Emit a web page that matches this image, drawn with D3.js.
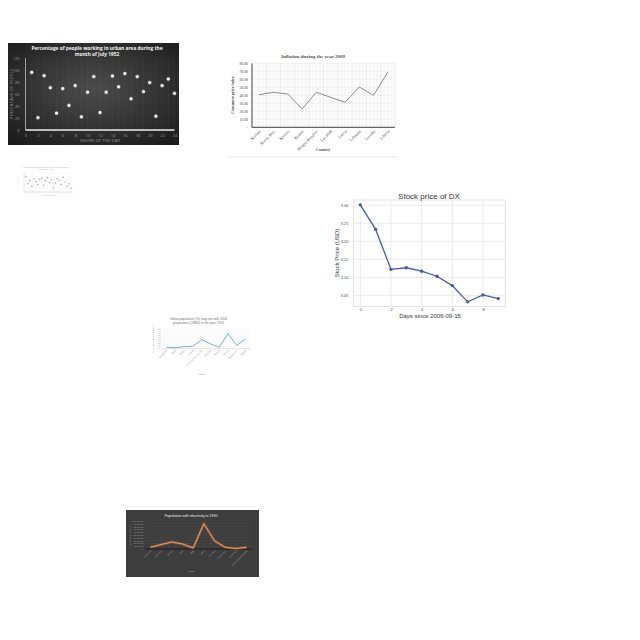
<!DOCTYPE html>
<html>
<head>
<meta charset="utf-8">
<script src="https://cdn.jsdelivr.net/npm/d3@7"></script>
<style>
  body { margin: 0; background: #fff; }
  svg { display: block; }
</style>
</head>
<body>
<script>
// chart 1 - urban workers scatter
var workHours = [1, 2, 3, 4, 5, 6, 7, 8, 9, 10, 11, 12, 13, 14, 15, 16, 17, 18, 19, 20, 21, 22, 23, 24];
var workPct = [96, 20.5, 90.5, 70.5, 28, 69, 41, 74, 22, 63, 89, 29, 63, 90, 72, 94, 52, 89, 64, 79, 23, 74, 85, 61];

// chart 2 - inflation
var inflCountries = ["Kiribati", "Korea, Rep.", "Kosovo", "Kuwait", "Kyrgyz Republic", "Lao PDR", "Latvia", "Lebanon", "Lesotho", "Liberia"];
var inflValues = [40.7, 43.7, 41.6, 23, 43.7, 37.5, 31, 50.4, 40, 69];

// chart 3 - tiny scatter
var tinyX = [1, 2, 3, 4, 5, 6, 7, 8, 9, 10, 11, 12, 13, 14, 15, 16, 17, 18, 19, 20, 21, 22, 23, 24];
var tinyY = [80, 45, 62, 30, 70, 55, 40, 66, 72, 35, 58, 75, 50, 64, 22, 48, 70, 60, 38, 78, 52, 30, 44, 20];

// chart 4 - stock price
var stockDays = [0, 1, 2, 3, 4, 5, 6, 7, 8, 9];
var stockPrice = [3.301, 3.233, 3.122, 3.1265, 3.117, 3.103, 3.077, 3.032, 3.051, 3.041];

// chart 5 - urban population
var urbCountries = ["Bangladesh", "Benin", "Bhutan", "Bolivia", "Bosnia and Herzegovina", "Botswana", "Burundi", "Bahrain", "Burkina Faso", "Bulgaria"];
var urbValues = [7, 5, 10, 12, 46, 25, 7, 76, 17, 49];

// chart 6 - electricity
var elecCountries = ["Cambodia", "Cameroon", "Canada", "Chad", "Chile", "China", "Colombia", "Congo, Rep.", "Costa Rica", "Central African Republic"];
var elecValues = [60, 157, 253, 180, 36, 904, 290, 60, 20, 60]; // millions

var svg = d3.select("body").append("svg")
  .attr("width", 640).attr("height", 640);
var defs = svg.append("defs");

/* ---------- chart 1 ---------- */
(function() {
  var g = svg.append("g");
  var grad = defs.append("radialGradient").attr("id", "darkbg")
    .attr("cx", "50%").attr("cy", "45%").attr("r", "70%");
  grad.append("stop").attr("offset", "0%").attr("stop-color", "#4a4a4a");
  grad.append("stop").attr("offset", "100%").attr("stop-color", "#1c1c1c");
  g.append("rect").attr("x", 8).attr("y", 43).attr("width", 171).attr("height", 102)
    .attr("fill", "url(#darkbg)");

  var x = d3.scaleLinear().domain([0, 24]).range([25.5, 174.5]);
  var y = d3.scaleLinear().domain([0, 120]).range([130, 58]);

  // faint grid
  for (var i = 0; i <= 24; i++) {
    g.append("line").attr("x1", x(i)).attr("x2", x(i)).attr("y1", y(120)).attr("y2", y(0))
      .attr("stroke", "#ffffff").attr("stroke-opacity", 0.06).attr("stroke-width", 0.6);
  }
  for (var j = 0; j <= 120; j += 5) {
    g.append("line").attr("x1", x(0)).attr("x2", x(24)).attr("y1", y(j)).attr("y2", y(j))
      .attr("stroke", "#ffffff").attr("stroke-opacity", 0.06).attr("stroke-width", 0.6);
  }

  g.append("text").attr("x", 97).attr("y", 49.6).attr("text-anchor", "middle")
    .attr("font-family", "Open Sans").attr("font-weight", "bold").attr("font-size", 4.8)
    .attr("fill", "#f2f2f2")
    .text("Percentage of people working in urban area during the");
  g.append("text").attr("x", 97).attr("y", 56).attr("text-anchor", "middle")
    .attr("font-family", "Open Sans").attr("font-weight", "bold").attr("font-size", 4.8)
    .attr("fill", "#f2f2f2")
    .text("month of July 1952");

  var xa = g.append("g").attr("transform", "translate(0,130)")
    .call(d3.axisBottom(x).tickValues([0, 2, 4, 6, 8, 10, 12, 14, 16, 18, 20, 22, 24]).tickSize(0).tickPadding(4));
  var ya = g.append("g").attr("transform", "translate(25.5,0)")
    .call(d3.axisLeft(y).tickValues([0, 20, 40, 60, 80, 100, 120]).tickSize(0).tickPadding(6));
  [xa, ya].forEach(function(a) {
    a.select(".domain").remove();
    a.selectAll("text").attr("font-family", "Open Sans").attr("font-size", 4).attr("fill", "#9a9a9a");
  });
  g.append("line").attr("x1", x(0)).attr("x2", x(24)).attr("y1", 130).attr("y2", 130)
    .attr("stroke", "#ececec").attr("stroke-width", 1.4);
  g.append("line").attr("x1", x(0)).attr("x2", x(0)).attr("y1", y(120)).attr("y2", 130)
    .attr("stroke", "#bdbdbd").attr("stroke-width", 0.8);

  g.append("text").attr("x", 100).attr("y", 141.5).attr("text-anchor", "middle")
    .attr("font-family", "Open Sans").attr("font-size", 4).attr("fill", "#a0a0a0")
    .attr("letter-spacing", 0.2).text("HOURS OF THE DAY");
  g.append("text").attr("transform", "translate(13,94) rotate(-90)").attr("text-anchor", "middle")
    .attr("font-family", "Open Sans").attr("font-size", 4).attr("fill", "#a0a0a0")
    .attr("letter-spacing", 0.2).text("PERCENTAGE OF PEOPLE");

  var glow = defs.append("radialGradient").attr("id", "dotglow");
  glow.append("stop").attr("offset", "0%").attr("stop-color", "#ffffff");
  glow.append("stop").attr("offset", "50%").attr("stop-color", "#e4e4e4");
  glow.append("stop").attr("offset", "100%").attr("stop-color", "#888888").attr("stop-opacity", 0.15);
  g.selectAll("circle.pt").data(workHours).enter().append("circle")
    .attr("cx", function(d) { return x(d); })
    .attr("cy", function(d, i) { return y(workPct[i]); })
    .attr("r", 2.4).attr("fill", "url(#dotglow)");
})();

/* ---------- chart 2 ---------- */
(function() {
  var g = svg.append("g");
  var serif = "Liberation Serif";
  var x = d3.scalePoint().domain(inflCountries).range([252, 395]).padding(0.5);
  var y = d3.scaleLinear().domain([0, 80]).range([127.3, 63.3]);

  // minor grid
  for (var v = 0; v <= 80; v += 2.5) {
    g.append("line").attr("x1", 252).attr("x2", 395).attr("y1", y(v)).attr("y2", y(v))
      .attr("stroke", v % 10 === 0 ? "#d4d4d4" : "#ececec").attr("stroke-width", 0.4);
  }
  for (var k = 0; k <= 40; k++) {
    var xx = 252 + k * 143 / 40;
    g.append("line").attr("x1", xx).attr("x2", xx).attr("y1", y(80)).attr("y2", y(0))
      .attr("stroke", k % 4 === 0 ? "#d4d4d4" : "#ececec").attr("stroke-width", 0.4);
  }

  g.append("text").attr("x", 313).attr("y", 58).attr("text-anchor", "middle")
    .attr("font-family", serif).attr("font-weight", "bold").attr("font-size", 5)
    .attr("fill", "#555").text("Inflation during the year 2009");

  var ya = g.append("g").attr("transform", "translate(252,0)")
    .call(d3.axisLeft(y).tickValues([0, 10, 20, 30, 40, 50, 60, 70, 80]).tickSize(0).tickPadding(4)
      .tickFormat(function(d) { return d === 0 ? "-" : d3.format(".2f")(d); }));
  ya.select(".domain").remove();
  ya.selectAll("text").attr("font-family", serif).attr("font-size", 3.8).attr("fill", "#444");

  g.append("path").attr("d", "M252,63.3V127.3H395").attr("fill", "none")
    .attr("stroke", "#444").attr("stroke-width", 1);

  var line = d3.line().x(function(d, i) { return x(inflCountries[i]); }).y(function(d) { return y(d); });
  g.append("path").datum(inflValues).attr("d", line).attr("fill", "none")
    .attr("stroke", "#8c8c8c").attr("stroke-width", 1);

  g.selectAll("text.cl").data(inflCountries).enter().append("text")
    .attr("transform", function(d) { return "translate(" + (x(d) + 2) + ",131.5) rotate(-45)"; })
    .attr("text-anchor", "end").attr("font-family", serif).attr("font-size", 4)
    .attr("fill", "#444").text(function(d) { return d; });

  g.append("text").attr("x", 323).attr("y", 150.5).attr("text-anchor", "middle")
    .attr("font-family", serif).attr("font-weight", "bold").attr("font-size", 4)
    .attr("fill", "#555").text("Country");
  g.append("text").attr("transform", "translate(234,95) rotate(-90)").attr("text-anchor", "middle")
    .attr("font-family", serif).attr("font-weight", "bold").attr("font-size", 4)
    .attr("fill", "#444").text("Consumer price index");
  g.append("line").attr("x1", 228).attr("x2", 398).attr("y1", 157).attr("y2", 157)
    .attr("stroke", "#d9d9d9").attr("stroke-width", 0.6);
})();

/* ---------- chart 3 ---------- */
(function() {
  var g = svg.append("g");
  var x = d3.scaleLinear().domain([0, 25]).range([24, 73]);
  var y = d3.scaleLinear().domain([0, 100]).range([192, 173]);
  g.append("text").attr("x", 46).attr("y", 167.5).attr("text-anchor", "middle")
    .attr("font-family", "Open Sans").attr("font-size", 1.8).attr("fill", "#b0b0b0")
    .text("Percentage of people working in urban area during the");
  g.append("text").attr("x", 46).attr("y", 170).attr("text-anchor", "middle")
    .attr("font-family", "Open Sans").attr("font-size", 1.8).attr("fill", "#b0b0b0")
    .text("month of July 1952");
  for (var v = 0; v <= 100; v += 20) {
    g.append("line").attr("x1", 24).attr("x2", 73).attr("y1", y(v)).attr("y2", y(v))
      .attr("stroke", "#efefef").attr("stroke-width", 0.4);
  }
  g.append("path").attr("d", "M24,173V192H73").attr("fill", "none")
    .attr("stroke", "#cfcfcf").attr("stroke-width", 0.5);
  g.selectAll("circle").data(tinyX).enter().append("circle")
    .attr("cx", function(d) { return x(d); })
    .attr("cy", function(d, i) { return y(tinyY[i]); })
    .attr("r", 0.7).attr("fill", "#9a9a9a");
  g.append("text").attr("x", 48).attr("y", 195.5).attr("text-anchor", "middle")
    .attr("font-family", "Open Sans").attr("font-size", 1.8).attr("fill", "#b0b0b0").text("Hours of the day");
  g.append("text").attr("transform", "translate(19,182) rotate(-90)").attr("text-anchor", "middle")
    .attr("font-family", "Open Sans").attr("font-size", 1.8).attr("fill", "#b0b0b0").text("Percentage");
})();

/* ---------- chart 4 ---------- */
(function() {
  var g = svg.append("g");
  var font = "Liberation Sans";
  var x = d3.scaleLinear().domain([-0.45, 9.45]).range([353.4, 505.2]);
  var y = d3.scaleLinear().domain([3.0185, 3.3145]).range([306.7, 200]);

  g.append("rect").attr("x", 353.4).attr("y", 200).attr("width", 151.8).attr("height", 106.7)
    .attr("fill", "#fff").attr("stroke", "#d6d6d6").attr("stroke-width", 0.7);
  [0, 2, 4, 6, 8].forEach(function(d) {
    g.append("line").attr("x1", x(d)).attr("x2", x(d)).attr("y1", 200).attr("y2", 306.7)
      .attr("stroke", "#e3e3e3").attr("stroke-width", 0.7);
  });
  [3.05, 3.10, 3.15, 3.20, 3.25, 3.30].forEach(function(d) {
    g.append("line").attr("x1", 353.4).attr("x2", 505.2).attr("y1", y(d)).attr("y2", y(d))
      .attr("stroke", "#e3e3e3").attr("stroke-width", 0.7);
  });

  var xa = g.append("g").attr("transform", "translate(0,306.7)")
    .call(d3.axisBottom(x).tickValues([0, 2, 4, 6, 8]).tickSize(0).tickPadding(1.8));
  var ya = g.append("g").attr("transform", "translate(353.4,0)")
    .call(d3.axisLeft(y).tickValues([3.05, 3.10, 3.15, 3.20, 3.25, 3.30]).tickSize(0).tickPadding(5)
      .tickFormat(d3.format(".2f")));
  [xa, ya].forEach(function(a) {
    a.select(".domain").remove();
    a.selectAll("text").attr("font-family", font).attr("font-size", 3.9).attr("fill", "#444");
  });

  var line = d3.line().x(function(d) { return x(d); }).y(function(d, i) { return y(stockPrice[i]); });
  g.append("path").datum(stockDays).attr("d", line).attr("fill", "none")
    .attr("stroke", "#4a5aa8").attr("stroke-width", 1.3);
  g.selectAll("circle").data(stockDays).enter().append("circle")
    .attr("cx", function(d) { return x(d); })
    .attr("cy", function(d, i) { return y(stockPrice[i]); })
    .attr("r", 1.7).attr("fill", "#4a5aa8");

  g.append("text").attr("x", 429).attr("y", 198.5).attr("text-anchor", "middle")
    .attr("font-family", font).attr("font-size", 8).attr("fill", "#333").text("Stock price of DX");
  g.append("text").attr("x", 430).attr("y", 317.8).attr("text-anchor", "middle")
    .attr("font-family", font).attr("font-size", 6).attr("fill", "#333").text("Days since 2006-09-15");
  g.append("text").attr("transform", "translate(338.5,253) rotate(-90)").attr("text-anchor", "middle")
    .attr("font-family", font).attr("font-size", 6).attr("fill", "#333").text("Stock Price (USD)");
})();

/* ---------- chart 5 ---------- */
(function() {
  var g = svg.append("g");
  var font = "Liberation Sans";
  var x = d3.scalePoint().domain(urbCountries).range([162, 250]).padding(0.5);
  var y = d3.scaleLinear().domain([0, 100]).range([348.7, 329]);

  for (var v = 0; v <= 100; v += 10) {
    g.append("line").attr("x1", 162).attr("x2", 250).attr("y1", y(v)).attr("y2", y(v))
      .attr("stroke", "#e6e6e6").attr("stroke-width", 0.3);
  }
  g.append("line").attr("x1", 162).attr("x2", 250).attr("y1", y(0)).attr("y2", y(0))
    .attr("stroke", "#bfbfbf").attr("stroke-width", 0.4);
  var ya = g.append("g").attr("transform", "translate(162,0)")
    .call(d3.axisLeft(y).tickValues([0, 10, 20, 30, 40, 50, 60, 70, 80, 90, 100]).tickSize(0).tickPadding(1.5));
  ya.select(".domain").remove();
  ya.selectAll("text").attr("font-family", font).attr("font-size", 1.7).attr("fill", "#777");

  var line = d3.line().x(function(d, i) { return x(urbCountries[i]); }).y(function(d) { return y(d); });
  g.append("path").datum(urbValues).attr("d", line).attr("fill", "none")
    .attr("stroke", "#5b9bd5").attr("stroke-width", 0.8);

  g.selectAll("text.cl").data(urbCountries).enter().append("text")
    .attr("transform", function(d) { return "translate(" + (x(d) + 1) + ",350.5) rotate(-45)"; })
    .attr("text-anchor", "end").attr("font-family", font).attr("font-size", 2)
    .attr("fill", "#8a8a8a").text(function(d) { return d; });

  g.append("text").attr("x", 198.5).attr("y", 320).attr("text-anchor", "middle")
    .attr("font-family", font).attr("font-size", 3.2).attr("fill", "#707070")
    .text("Urban population (%) long run with 2050");
  g.append("text").attr("x", 198.5).attr("y", 324.4).attr("text-anchor", "middle")
    .attr("font-family", font).attr("font-size", 3.2).attr("fill", "#707070")
    .text("projections (OWID) in the year 1950");
  g.append("text").attr("x", 202).attr("y", 374.5).attr("text-anchor", "middle")
    .attr("font-family", font).attr("font-size", 2).attr("fill", "#8a8a8a").text("Country");
  g.append("text").attr("transform", "translate(153.8,339) rotate(-90)").attr("text-anchor", "middle")
    .attr("font-family", font).attr("font-size", 2).attr("fill", "#8a8a8a").text("Percentage of urban population");
})();

/* ---------- chart 6 ---------- */
(function() {
  var g = svg.append("g");
  var font = "Liberation Sans";
  g.append("rect").attr("x", 126).attr("y", 510).attr("width", 133).attr("height", 67).attr("fill", "#3d3d3d");
  var x = d3.scalePoint().domain(elecCountries).range([145, 252]).padding(0.5);
  var y = d3.scaleLinear().domain([0, 1000]).range([549, 521]);

  for (var v = 100; v <= 1000; v += 100) {
    g.append("line").attr("x1", 145).attr("x2", 252).attr("y1", y(v)).attr("y2", y(v))
      .attr("stroke", "#5a5a5a").attr("stroke-width", 0.3);
  }
  var ya = g.append("g").attr("transform", "translate(145,0)")
    .call(d3.axisLeft(y).tickValues([0, 100, 200, 300, 400, 500, 600, 700, 800, 900, 1000]).tickSize(0).tickPadding(1.5)
      .tickFormat(function(d) { return d3.format(",")(d * 1000000); }));
  ya.select(".domain").remove();
  ya.selectAll("text").attr("font-family", font).attr("font-size", 1.8).attr("fill", "#aaa");

  g.append("line").attr("x1", 145).attr("x2", 252).attr("y1", y(0)).attr("y2", y(0))
    .attr("stroke", "#111").attr("stroke-width", 0.7);

  var line = d3.line().x(function(d, i) { return x(elecCountries[i]); }).y(function(d) { return y(d); });
  g.append("path").datum(elecValues).attr("d", line).attr("fill", "none")
    .attr("stroke", "#c8682a").attr("stroke-opacity", 0.55).attr("stroke-width", 2.6)
    .attr("stroke-linejoin", "round");
  g.append("path").datum(elecValues).attr("d", line).attr("fill", "none")
    .attr("stroke", "#f4b183").attr("stroke-width", 0.8).attr("stroke-linejoin", "round");

  g.selectAll("text.cl").data(elecCountries).enter().append("text")
    .attr("transform", function(d) { return "translate(" + (x(d) + 1) + ",551) rotate(-45)"; })
    .attr("text-anchor", "end").attr("font-family", font).attr("font-size", 2)
    .attr("fill", "#a8a8a8").text(function(d) { return d; });

  g.append("text").attr("x", 191).attr("y", 516.5).attr("text-anchor", "middle")
    .attr("font-family", font).attr("font-size", 3.6).attr("fill", "#f0f0f0")
    .text("Population with electricity in 1990");
  g.append("text").attr("x", 191).attr("y", 571.5).attr("text-anchor", "middle")
    .attr("font-family", font).attr("font-size", 2).attr("fill", "#aaa").text("Country");
  g.append("text").attr("transform", "translate(130.5,535) rotate(-90)").attr("text-anchor", "middle")
    .attr("font-family", font).attr("font-size", 2).attr("fill", "#aaa").text("Population with electricity");
})();
</script>
</body>
</html>
